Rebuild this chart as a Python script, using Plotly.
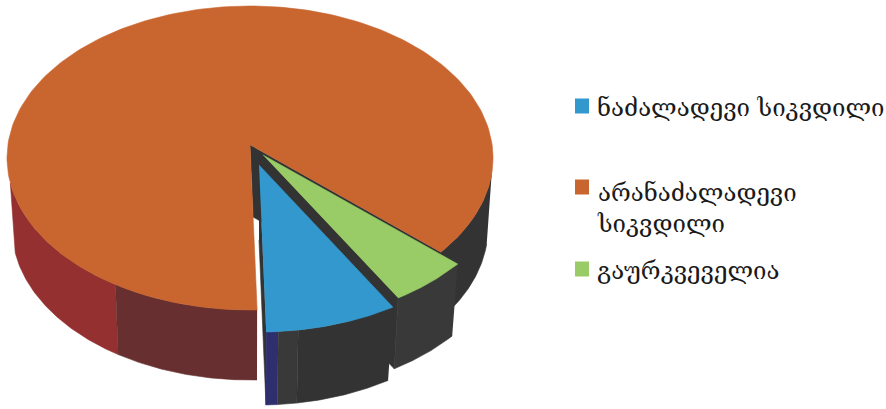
import numpy as np
import plotly.graph_objects as go

# Shares of each cause of death, clockwise from the first slice's start
labels = ["ნაძალადევი სიკვდილი", "არანაძალადევი<br>სიკვდილი", "გაურკვეველია"]
values = [8.7, 86.1, 5.2]
colors = ["#3298cd", "#c9652f", "#99cc66"]

FIRST_ANGLE = 147.0  # clock angle at which the first slice begins
DARK = "#333333"
DARK_SOFT = "#393939"
NAVY = "#2e2f6e"
RED = "#953030"
BROWN = "#672f2f"


def arc(disc, a0, a1, n=90):
    """Points of an elliptical arc between two clock angles (degrees)."""
    cx, cy, rx, ry = disc
    a = np.radians(np.linspace(a0, a1, n))
    return cx + rx * np.sin(a), cy - ry * np.cos(a)


# Slice angle spans derived from the values
spans = []
start = FIRST_ANGLE
for v in values:
    end = start + v / sum(values) * 360
    spans.append((start, end))
    start = end
(blue0, blue1), (or0, or1), (gr0, gr1) = spans

# Perspective discs (centre x, centre y, radius x, radius y) and the slice tips
or_top, or_bot = (250, 158, 243, 152), (250, 228, 238, 152)
or_tip, or_tip_low = (250, 145), (253, 217)
bl_top, bl_bot = (259, 178, 246, 154), (259, 253, 237, 152)
bl_tip, bl_tip_low = (259, 165), (259, 240)
gr_top, gr_bot = (263, 168, 248, 155), (263, 243, 241, 150)
gr_tip, gr_tip_low = (263, 155), (263, 234)

fig = go.Figure()


def poly(xs, ys, color):
    fig.add_trace(go.Scatter(
        x=list(xs), y=list(ys), mode="lines", fill="toself", fillcolor=color,
        line=dict(width=0.6, color=color), hoverinfo="skip", showlegend=False,
    ))


def rim(top, bot, a0, a1, color):
    tx, ty = arc(top, a0, a1)
    bx, by = arc(bot, a0, a1)
    poly(np.r_[tx, bx[::-1]], np.r_[ty, by[::-1]], color)


def cut_face(top, bot, tip, tip_low, angle, color):
    tx, ty = arc(top, angle, angle, 1)
    bx, by = arc(bot, angle, angle, 1)
    poly([tip[0], tx[0], bx[0], tip_low[0]], [tip[1], ty[0], by[0], tip_low[1]], color)


def wedge(disc, tip, a0, a1, color):
    x, y = arc(disc, a0, a1, 240)
    poly(np.r_[tip[0], x], np.r_[tip[1], y], color)


# Large slice: outer wall bands, cut face, then the top
rim(or_top, or_bot, or0 + 35.3, 260.5, RED)
rim(or_top, or_bot, or0, or0 + 35.3, BROWN)
rim(or_top, or_bot, 96, or1 - 360, DARK)
cut_face(or_top, or_bot, or_tip, or_tip_low, or1 - 360, DARK)
wedge(or_top, or_tip, or0, or1, colors[1])

# Pulled-out green slice
cut_face(gr_top, gr_bot, gr_tip, gr_tip_low, gr1 - 360, DARK)
rim(gr_top, gr_bot, gr0 - 360, gr1 - 360, DARK_SOFT)

# Pulled-out blue slice
cut_face(bl_top, bl_bot, bl_tip, bl_tip_low, blue1, DARK)
rim(bl_top, bl_bot, blue1 - 2.8, blue1, NAVY)
rim(bl_top, bl_bot, blue1 - 7.5, blue1 - 2.8, DARK_SOFT)
rim(bl_top, bl_bot, blue0, blue1 - 7.5, DARK)

wedge(gr_top, gr_tip, gr0 - 360, gr1 - 360, colors[2])
wedge(bl_top, bl_tip, blue0, blue1, colors[0])

# Legend entries
swatch_y = [106, 187, 269]
text_x = [595, 595, 595]
text_y = [108, 208, 271]
shapes = [
    dict(type="rect", xref="x", yref="y", x0=575, x1=589, y0=y - 7.5, y1=y + 7.5,
         fillcolor=c, line=dict(width=0))
    for y, c in zip(swatch_y, colors)
]
annotations = [
    dict(x=x, y=y, xref="x", yref="y", text=t, showarrow=False, xanchor="left",
         yanchor="middle", align="left",
         font=dict(family="DejaVu Serif", size=24, color="#1a1a1a"))
    for x, y, t in zip(text_x, text_y, labels)
]

fig.update_layout(
    width=886, height=409, margin=dict(l=0, r=0, t=0, b=0),
    paper_bgcolor="white", plot_bgcolor="white", showlegend=False,
    xaxis=dict(range=[0, 886], visible=False, fixedrange=True),
    yaxis=dict(range=[409, 0], visible=False, fixedrange=True),
    shapes=shapes, annotations=annotations,
)
fig.write_html("out.html", config={"displayModeBar": False})
